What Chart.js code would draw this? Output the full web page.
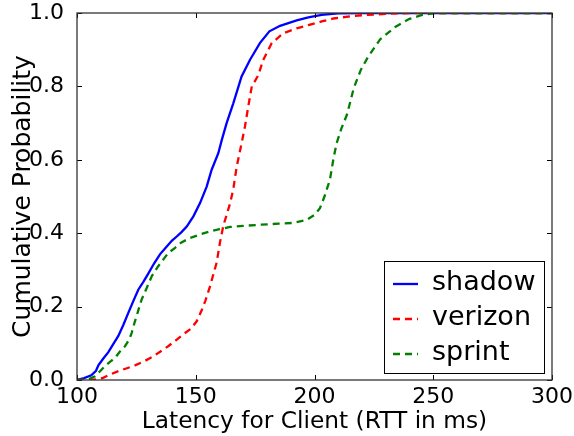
<!DOCTYPE html>
<html>
<head>
<meta charset="utf-8">
<script src="https://cdn.jsdelivr.net/npm/chart.js@4/dist/chart.umd.min.js"></script>
<style>
html,body{margin:0;padding:0;background:#fff;}
canvas{display:block;}
</style>
</head>
<body>
<canvas id="c" width="574" height="436"></canvas>
<script>
// ---- data ----
const seriesNames = ["shadow", "verizon", "sprint"];
const xTicks = [100, 150, 200, 250, 300];
const yTicks = [0.0, 0.2, 0.4, 0.6, 0.8, 1.0];

const shadowX = [100, 103, 106, 108, 109, 111, 113.2, 115, 117.4, 119.5, 121.6, 123.7, 125.8, 128, 130, 132.5, 135, 137.8, 140, 142, 144, 146.2, 149, 151.8, 154.6, 156.7, 159.5, 161, 163, 165.8, 169.3, 172.8, 177, 181, 185.5, 192.5, 197.4, 203, 210, 220, 300];
const shadowY = [0, 0.005, 0.013, 0.025, 0.04, 0.058, 0.076, 0.095, 0.12, 0.15, 0.183, 0.215, 0.246, 0.268, 0.29, 0.318, 0.343, 0.364, 0.38, 0.391, 0.403, 0.418, 0.446, 0.482, 0.527, 0.573, 0.618, 0.655, 0.70, 0.754, 0.827, 0.872, 0.918, 0.95, 0.965, 0.98, 0.988, 0.995, 0.999, 1, 1];

const verizonX = [100, 105, 108, 111, 114, 117.4, 121, 124.4, 128, 131.5, 135, 138.4, 142, 145.5, 148, 150.4, 152.5, 154, 156, 157.5, 158.8, 160.2, 161.6, 163, 164.4, 165.8, 167.2, 169.3, 170.7, 172.1, 173.6, 176.3, 178.4, 182, 186.9, 192.5, 197.4, 203, 208, 215, 222, 235, 245, 300];
const verizonY = [0, 0, 0.002, 0.006, 0.015, 0.024, 0.032, 0.04, 0.05, 0.062, 0.077, 0.092, 0.11, 0.128, 0.14, 0.16, 0.19, 0.215, 0.255, 0.29, 0.32, 0.375, 0.42, 0.45, 0.48, 0.52, 0.58, 0.645, 0.69, 0.745, 0.80, 0.83, 0.872, 0.918, 0.945, 0.958, 0.967, 0.977, 0.985, 0.991, 0.995, 0.999, 1, 1];

const sprintX = [100, 103.4, 105.5, 107.6, 109.7, 111.8, 114, 116, 118, 120.2, 122, 123, 124.4, 125.1, 126.5, 127.2, 129.3, 131.5, 134.2, 136.3, 138.4, 141.3, 144, 147.6, 152, 156, 160, 164.4, 170, 177, 185, 191, 196.7, 200, 202.3, 204.2, 206.5, 207.9, 209.3, 211.3, 213.6, 215, 216.5, 219.5, 222.5, 227.6, 234, 240, 245, 251, 300];
const sprintY = [0, 0, 0.004, 0.01, 0.024, 0.038, 0.05, 0.06, 0.077, 0.092, 0.11, 0.128, 0.16, 0.174, 0.205, 0.219, 0.25, 0.283, 0.31, 0.328, 0.346, 0.36, 0.375, 0.387, 0.397, 0.405, 0.411, 0.417, 0.42, 0.423, 0.426, 0.428, 0.436, 0.45, 0.468, 0.50, 0.546, 0.60, 0.645, 0.685, 0.722, 0.756, 0.795, 0.845, 0.88, 0.928, 0.962, 0.984, 0.994, 1, 1];

const seriesColors = ["#0000ff", "#ff0000", "#008000"];
const seriesDash = [[], [7, 5], [7, 5]];

function pts(xs, ys) { return xs.map((x, i) => ({x: x, y: ys[i]})); }

const FONT = "'DejaVu Sans', sans-serif";

// frame + inward tick marks on all four sides
const framePlugin = {
  id: 'frame',
  afterDatasetsDraw(chart) {
    const {ctx, chartArea: a, scales} = chart;
    ctx.save();
    ctx.strokeStyle = '#000';
    ctx.lineWidth = 1;
    const tl = 5;
    ctx.beginPath();
    scales.x.ticks.forEach(t => {
      const px = Math.round(scales.x.getPixelForValue(t.value)) + 0.5;
      ctx.moveTo(px, a.bottom); ctx.lineTo(px, a.bottom - tl);
      ctx.moveTo(px, a.top); ctx.lineTo(px, a.top + tl);
    });
    scales.y.ticks.forEach(t => {
      const py = Math.round(scales.y.getPixelForValue(t.value)) + 0.5;
      ctx.moveTo(a.left, py); ctx.lineTo(a.left + tl, py);
      ctx.moveTo(a.right, py); ctx.lineTo(a.right - tl, py);
    });
    ctx.stroke();
    ctx.strokeStyle = '#333';
    ctx.lineWidth = 1.3;
    ctx.strokeRect(a.left, a.top, a.right - a.left, a.bottom - a.top);
    ctx.restore();
  }
};

// legend drawn inside the plot area, lower right
const legendPlugin = {
  id: 'innerLegend',
  afterDraw(chart) {
    const {ctx, chartArea: a} = chart;
    const w = 160, h = 112;
    const x0 = a.right - 8 - w, y0 = a.bottom - 7 - h;
    ctx.save();
    ctx.fillStyle = '#fff';
    ctx.fillRect(x0, y0, w, h);
    ctx.strokeStyle = '#000';
    ctx.lineWidth = 1;
    ctx.strokeRect(Math.round(x0) + 0.5, Math.round(y0) + 0.5, w, h);
    ctx.font = "27px " + FONT;
    ctx.textBaseline = 'middle';
    ctx.textAlign = 'left';
    chart.data.datasets.forEach((ds, i) => {
      const cy = y0 + 23 + i * 35;
      ctx.strokeStyle = ds.borderColor;
      ctx.lineWidth = ds.borderWidth;
      ctx.setLineDash(ds.borderDash || []);
      ctx.beginPath();
      ctx.moveTo(x0 + 9, cy); ctx.lineTo(x0 + 34, cy);
      ctx.stroke();
      ctx.setLineDash([]);
      ctx.fillStyle = '#000';
      ctx.fillText(ds.label, x0 + 48, cy - 1);
    });
    ctx.restore();
  }
};

const datasets = [
  {label: seriesNames[0], data: pts(shadowX, shadowY), order: 3},
  {label: seriesNames[1], data: pts(verizonX, verizonY), order: 2},
  {label: seriesNames[2], data: pts(sprintX, sprintY), order: 1}
].map((d, i) => Object.assign(d, {
  borderColor: seriesColors[i],
  backgroundColor: seriesColors[i],
  borderWidth: 2.3,
  borderDash: seriesDash[i],
  showLine: true,
  pointRadius: 0,
  fill: false,
  tension: 0
}));

new Chart(document.getElementById('c'), {
  type: 'scatter',
  data: {datasets: datasets},
  options: {
    responsive: false,
    animation: false,
    devicePixelRatio: 1,
    layout: {padding: {left: 0, right: 22, top: 13, bottom: 0}},
    plugins: {legend: {display: false}, tooltip: {enabled: false}},
    scales: {
      x: {
        type: 'linear', min: xTicks[0], max: xTicks[xTicks.length - 1],
        afterBuildTicks: s => { s.ticks = xTicks.map(v => ({value: v})); },
        ticks: {font: {family: FONT, size: 22}, color: '#000', padding: -4, maxRotation: 0,
                callback: v => String(v)},
        grid: {display: false},
        border: {display: false},
        title: {display: true, text: 'Latency for Client (RTT in ms)', color: '#000',
                font: {family: FONT, size: 23.3}, padding: {top: 0, bottom: 0}},
        afterFit: s => { s.height = 56; s.paddingLeft = 0; s.paddingRight = 0; }
      },
      y: {
        type: 'linear', min: yTicks[0], max: yTicks[yTicks.length - 1],
        afterBuildTicks: s => { s.ticks = yTicks.map(v => ({value: v})); },
        ticks: {font: {family: FONT, size: 22}, color: '#000', padding: 5,
                callback: v => Number(v).toFixed(1)},
        grid: {display: false},
        border: {display: false},
        title: {display: true, text: 'Cumulative Probability', color: '#000',
                font: {family: FONT, size: 25}, padding: {top: 8, bottom: 0}},
        afterFit: s => { s.width = 77; s.paddingTop = 0; s.paddingBottom = 0; }
      }
    }
  },
  plugins: [framePlugin, legendPlugin]
});
</script>
</body>
</html>
